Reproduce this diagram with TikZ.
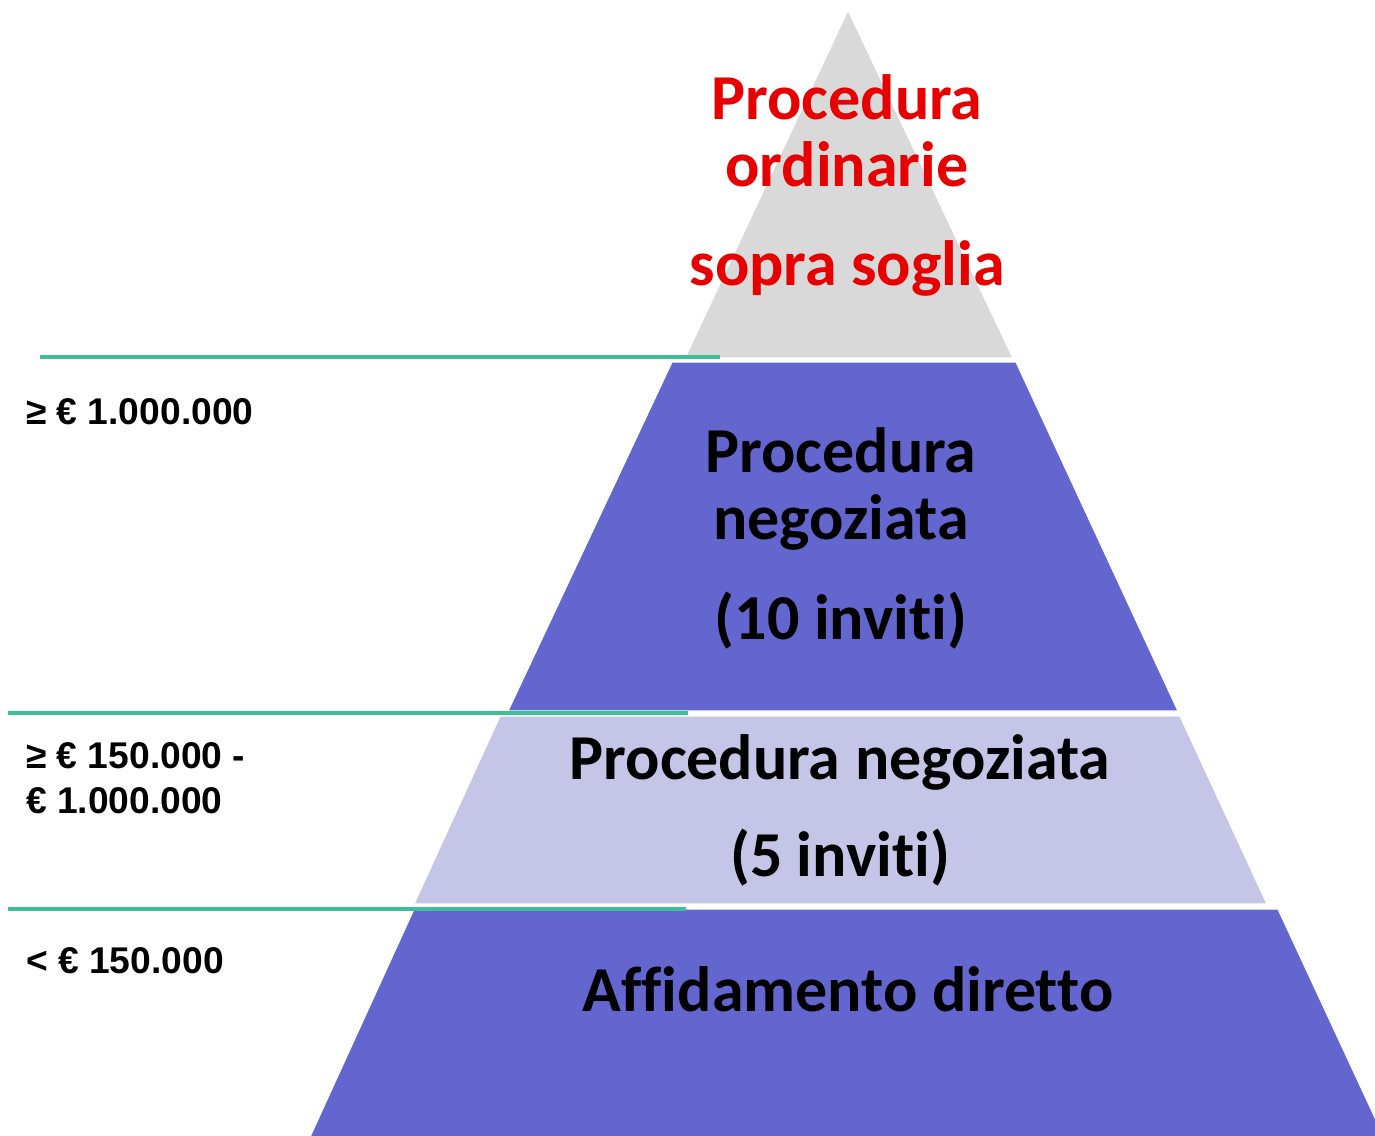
\documentclass[tikz,border=0pt]{standalone}
\usepackage{fontspec}
\setmainfont{Carlito}[Ligatures={NoCommon}]
\newfontfamily\arialbold{Liberation Sans}[BoldFont={* Bold}]
\definecolor{layblue}{RGB}{99,102,207}
\definecolor{laylav}{RGB}{197,197,232}
\definecolor{laygray}{RGB}{217,217,217}
\definecolor{redtxt}{RGB}{230,0,0}
\definecolor{tealline}{RGB}{60,190,150}
\begin{document}
\begin{tikzpicture}[x=1pt,y=-1pt,
  layer/.style={draw=white,line width=1.2pt},
  bigtxt/.style={anchor=base,inner sep=0pt,font=\fontsize{64}{68}\selectfont\bfseries},
  sidetxt/.style={anchor=base west,inner sep=0pt,font=\fontsize{37.2}{44}\selectfont\arialbold\bfseries},
  sep/.style={draw=tealline,line width=3.4pt}]
\useasboundingbox (0,0) rectangle (1375,1135);
\begin{scope}
\clip (0,0) rectangle (1375,1135);
% layers
\path[layer,fill=laygray] (848,10) -- (1013,358) -- (685,358) -- cycle;
\path[layer,fill=layblue] (672,362) -- (1016,362) -- (1178,711) -- (508,711) -- cycle;
\path[layer,fill=laylav] (500,716) -- (1180,716) -- (1267,904) -- (414,904) -- cycle;
\path[layer,fill=layblue] (414,909) -- (1278,909) -- (1390,1150) -- (304,1150) -- cycle;
\end{scope}
% separator lines
\coordinate (s1a) at (40,357); \coordinate (s1b) at (720,357);
\coordinate (s2a) at (8,713);  \coordinate (s2b) at (688,713);
\coordinate (s3a) at (8,909);  \coordinate (s3b) at (686,909);
\draw[sep] (s1a) -- (s1b);
\draw[sep] (s2a) -- (s2b);
\draw[sep] (s3a) -- (s3b);
% top texts
\node[bigtxt,text=redtxt] (t1) at (847,119) {Procedura};
\node[bigtxt,text=redtxt] (t2) at (847,186) {ordinarie};
\node[bigtxt,text=redtxt] (t3) at (847,285) {sopra soglia};
% second layer
\node[bigtxt] (b1) at (841,472) {Procedura};
\node[bigtxt] (b2) at (841,539) {negoziata};
\node[bigtxt] (b3) at (841,639) {(10 inviti)};
% third layer
\node[bigtxt] (l1) at (840,779) {Procedura negoziata};
\node[bigtxt] (l2) at (840,876) {(5 inviti)};
% bottom layer
\node[bigtxt] (a1) at (848,1011) {Affidamento diretto};
% side labels
\node[sidetxt] (s1) at (26,424) {≥ € 1.000.000};
\node[sidetxt] (s2) at (26,768) {≥ € 150.000 -};
\node[sidetxt] (s2b) at (26,813) {€ 1.000.000};
\node[sidetxt] (s3) at (26,973) {< € 150.000};
\end{tikzpicture}
\end{document}
